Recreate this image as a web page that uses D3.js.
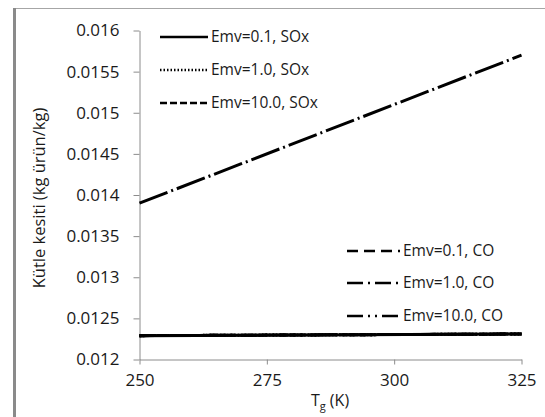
<!DOCTYPE html>
<html>
<head>
<meta charset="utf-8">
<script src="https://cdn.jsdelivr.net/npm/d3@7/dist/d3.min.js"></script>
<style>
  html, body { margin: 0; padding: 0; background: #fff; }
  svg { display: block; }
  text { font-family: "Open Sans", "DejaVu Sans", sans-serif; }
</style>
</head>
<body>
<svg id="chart" width="545" height="417"></svg>
<script>
// Gas temperature (K)
const temps = [250, 325];
// Mass fraction series (kg product / kg)
const soxEmv01 = [0.01229, 0.01231];
const soxEmv10 = [0.01229, 0.01231];
const soxEmv100 = [0.01229, 0.01231];
const coEmv01 = [0.01229, 0.01231];
const coEmv10 = [0.0139, 0.0157];
const coEmv100 = [0.01229, 0.01231];
const seriesNames = ["Emv=0.1, SOx", "Emv=1.0, SOx", "Emv=10.0, SOx", "Emv=0.1, CO", "Emv=1.0, CO", "Emv=10.0, CO"];
const xTicks = [250, 275, 300, 325];
const yTicks = [0.012, 0.0125, 0.013, 0.0135, 0.014, 0.0145, 0.015, 0.0155, 0.016];
const yTickLabels = ["0.012", "0.0125", "0.013", "0.0135", "0.014", "0.0145", "0.015", "0.0155", "0.016"];

const svg = d3.select("#chart");

// outer frame
svg.append("line").attr("x1", 14).attr("x2", 545).attr("y1", 8.5).attr("y2", 8.5)
  .attr("stroke", "#a6a6a6").attr("stroke-width", 1.2);
svg.append("line").attr("x1", 14.5).attr("x2", 14.5).attr("y1", 8).attr("y2", 417)
  .attr("stroke", "#8a8a8a").attr("stroke-width", 3);

const x = d3.scaleLinear().domain([250, 325]).range([139.5, 521.5]);
const y = d3.scaleLinear().domain([0.012, 0.016]).range([359.5, 30.5]);

const axisColor = "#8c8c8c";

const yAxis = svg.append("g").attr("transform", `translate(${x(250)},0)`)
  .call(d3.axisLeft(y).tickValues(yTicks).tickSize(6)
    .tickFormat((d, i) => yTickLabels[i]).tickSizeOuter(0));
const xAxis = svg.append("g").attr("transform", `translate(0,${y(0.012)})`)
  .call(d3.axisBottom(x).tickValues(xTicks).tickSize(5).tickFormat(d3.format("d")).tickSizeOuter(0));

[yAxis, xAxis].forEach(g => {
  g.select(".domain").attr("stroke", axisColor);
  g.selectAll(".tick line").attr("stroke", axisColor);
  g.selectAll(".tick text").attr("fill", "#1a1a1a").style("font-size", "17px")
    .style("font-family", "'Open Sans', sans-serif");
});
yAxis.selectAll(".tick text").attr("x", -20);
xAxis.selectAll(".tick text").attr("y", 14);

// axis titles
const xt = svg.append("text").attr("x", 330).attr("y", 406).attr("text-anchor", "middle")
  .attr("fill", "#1a1a1a").style("font-size", "16px");
xt.append("tspan").text("T");
xt.append("tspan").text("g").attr("dy", 4).style("font-size", "11px");
xt.append("tspan").text(" (K)").attr("dy", -4);

svg.append("text").attr("transform", "translate(45,198) rotate(-90)")
  .attr("text-anchor", "middle").attr("fill", "#1a1a1a").style("font-size", "16.5px")
  .text("Kütle kesiti (kg ürün/kg)");

// series styles
const styles = [
  { data: soxEmv01, dash: null },
  { data: soxEmv10, dash: "1.5,2" },
  { data: soxEmv100, dash: "7,3" },
  { data: coEmv01, dash: "11,6" },
  { data: coEmv10, dash: "30,4,2,4" },
  { data: coEmv100, dash: "16,5,2,5,2,5" }
];

const line = d3.line().x(d => x(d[0])).y(d => y(d[1]));

const drawOrder = [0, 1, 2, 3, 5, 4];
drawOrder.forEach(i => {
  const s = styles[i];
  svg.append("path")
    .datum(temps.map((t, k) => [t, s.data[k]]))
    .attr("d", line)
    .attr("fill", "none")
    .attr("stroke", "#000")
    .attr("stroke-width", 3)
    .attr("stroke-dasharray", s.dash);
});

// legends
const legendDash = [null, "1.5,2", "7,3", "11,6", "16,5,2,5", "16,5,2,5,2,5"];
const legendPos = [
  { x0: 160, x1: 208, ty: 37 },
  { x0: 160, x1: 208, ty: 70 },
  { x0: 160, x1: 208, ty: 103 },
  { x0: 347, x1: 400, ty: 251 },
  { x0: 347, x1: 400, ty: 283 },
  { x0: 347, x1: 400, ty: 316 }
];
seriesNames.forEach((name, i) => {
  const p = legendPos[i];
  svg.append("line").attr("x1", p.x0).attr("x2", p.x1).attr("y1", p.ty).attr("y2", p.ty)
    .attr("stroke", "#000").attr("stroke-width", 2.5)
    .attr("stroke-dasharray", legendDash[i]);
  svg.append("text").attr("x", p.x1 + 3).attr("y", p.ty).attr("dy", "0.35em")
    .attr("fill", "#1a1a1a").style("font-size", "15.5px").text(name);
});
</script>
</body>
</html>
